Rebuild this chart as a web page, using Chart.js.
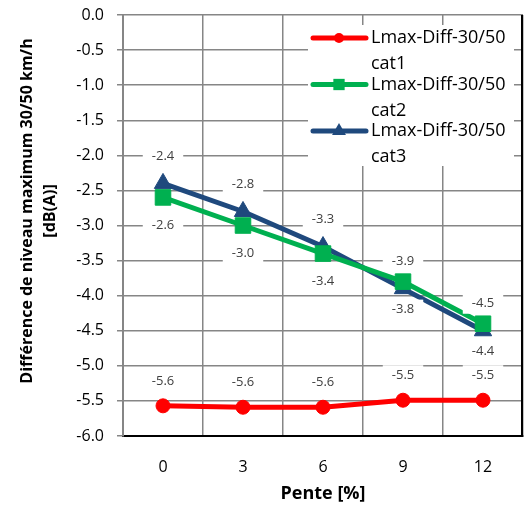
<!DOCTYPE html>
<html>
<head>
<meta charset="utf-8">
<script src="https://cdn.jsdelivr.net/npm/chart.js@4"></script>
<style>body{margin:0;background:#fff}</style>
</head>
<body>
<canvas id="myChart" width="524" height="506"></canvas>
<script>
const labels = ['0', '3', '6', '9', '12'];

const cat1 = [-5.57, -5.59, -5.59, -5.49, -5.49];
const cat2 = [-2.6, -3.0, -3.4, -3.8, -4.4];
const cat3 = [-2.4, -2.8, -3.3, -3.9, -4.5];

const seriesNames = [
  ['Lmax-Diff-30/50', 'cat1'],
  ['Lmax-Diff-30/50', 'cat2'],
  ['Lmax-Diff-30/50', 'cat3'],
];

const FONT = '"Open Sans", "Noto Sans", sans-serif';
// a few nbsp in front of the y title to push it up a bit, as in the original
const PAD = '\u00A0'.repeat(7);

// draw a marker by hand (used for the legend)
function marker(ctx, style, x, y, r, color) {
  ctx.fillStyle = color;
  ctx.beginPath();
  if (style === 'circle') {
    ctx.arc(x, y, r, 0, Math.PI * 2);
  } else if (style === 'rect') {
    const s = r * Math.SQRT1_2;
    ctx.rect(x - s, y - s, 2 * s, 2 * s);
  } else {
    ctx.moveTo(x, y - r);
    ctx.lineTo(x + r * 0.866, y + r * 0.5);
    ctx.lineTo(x - r * 0.866, y + r * 0.5);
    ctx.closePath();
  }
  ctx.fill();
}

// black line on the right side of the plot
const rightBorder = {
  id: 'rightBorder',
  beforeDatasetsDraw(chart) {
    const {ctx, chartArea} = chart;
    ctx.save();
    ctx.strokeStyle = '#000';
    ctx.lineWidth = 2;
    ctx.beginPath();
    ctx.moveTo(chartArea.right - 1, chartArea.top);
    ctx.lineTo(chartArea.right - 1, chartArea.bottom);
    ctx.stroke();
    ctx.restore();
  }
};

// value labels with white boxes, like Excel data labels
const valueLabels = {
  id: 'valueLabels',
  afterDatasetsDraw(chart) {
    const ctx = chart.ctx;
    ctx.save();
    ctx.font = '13px ' + FONT;
    ctx.textAlign = 'center';
    ctx.textBaseline = 'middle';
    chart.data.datasets.forEach((ds, i) => {
      chart.getDatasetMeta(i).data.forEach((pt, j) => {
        const txt = ds.data[j].toFixed(1);
        const y = pt.y + ds.labelOffset;
        const w = ctx.measureText(txt).width + 18;
        ctx.fillStyle = '#fff';
        ctx.fillRect(pt.x - w / 2, y - 10, w, 20);
        ctx.fillStyle = '#404040';
        ctx.fillText(txt, pt.x, y);
      });
    });
    ctx.restore();
  }
};

// legend drawn inside the plot, top right
const innerLegend = {
  id: 'innerLegend',
  afterDraw(chart) {
    const ctx = chart.ctx;
    const area = chart.chartArea;
    const x0 = area.right - 215;
    const y0 = area.top + 10;
    ctx.save();
    ctx.fillStyle = '#fff';
    ctx.fillRect(x0, y0, 206, 141);
    ctx.font = '18px ' + FONT;
    ctx.textBaseline = 'middle';
    chart.data.datasets.forEach((ds, i) => {
      const y = y0 + 13 + i * 46.5;
      ctx.strokeStyle = ds.borderColor;
      ctx.lineWidth = 5;
      ctx.lineCap = 'round';
      ctx.beginPath();
      ctx.moveTo(x0 + 5, y);
      ctx.lineTo(x0 + 58, y);
      ctx.stroke();
      marker(ctx, ds.pointStyle, x0 + 31, y, ds.legendRadius, ds.borderColor);
      ctx.fillStyle = '#000';
      ctx.fillText(seriesNames[i][0], x0 + 63, y);
      ctx.fillText(seriesNames[i][1], x0 + 63, y + 26);
    });
    ctx.restore();
  }
};

const data = {
  labels: labels,
  datasets: [{
    label: seriesNames[0].join(' '),
    data: cat1,
    borderColor: '#ff0000',
    backgroundColor: '#ff0000',
    borderWidth: 5,
    pointStyle: 'circle',
    pointRadius: 7,
    pointBorderWidth: 1,
    labelOffset: -25,
    legendRadius: 5,
  }, {
    label: seriesNames[1].join(' '),
    data: cat2,
    borderColor: '#00b050',
    backgroundColor: '#00b050',
    borderWidth: 5,
    pointStyle: 'rect',
    pointRadius: 11,
    pointBorderWidth: 1,
    labelOffset: 28,
    legendRadius: 8,
  }, {
    label: seriesNames[2].join(' '),
    data: cat3,
    borderColor: '#1f497d',
    backgroundColor: '#1f497d',
    borderWidth: 5,
    pointStyle: 'triangle',
    pointRadius: 10,
    pointBorderWidth: 1,
    labelOffset: -27,
    legendRadius: 8,
  }]
};

const config = {
  type: 'line',
  data: data,
  options: {
    responsive: false,
    animation: false,
    layout: { autoPadding: false, padding: { top: 15, right: 1, left: 0, bottom: 0 } },
    plugins: {
      legend: { display: false },
      tooltip: { enabled: false },
    },
    scales: {
      x: {
        offset: true,
        afterFit: (scale) => {
          scale.height = 70;
          scale.paddingLeft = 0;
          scale.paddingRight = 0;
        },
        grid: { offset: true, color: '#868686', lineWidth: 1.5, drawTicks: false },
        border: { color: '#000', width: 2 },
        ticks: { color: '#000', font: { size: 16, family: FONT }, padding: 22 },
        title: {
          display: true,
          text: 'Pente [%]',
          color: '#000',
          font: { size: 18, weight: 'bold', family: FONT },
          padding: { top: 0, bottom: 1 },
        },
      },
      y: {
        min: -6,
        max: 0,
        afterFit: (scale) => {
          scale.width = 123;
          scale.paddingTop = 0;
          scale.paddingBottom = 0;
        },
        grid: { color: '#868686', lineWidth: 1.5, tickLength: 6 },
        border: { color: '#868686', width: 2 },
        ticks: {
          stepSize: 0.5,
          color: '#000',
          padding: 13,
          font: { size: 16, family: FONT },
          callback: (v) => v.toFixed(1),
        },
        title: {
          display: true,
          text: [PAD + 'Différence de niveau maximum 30/50 km/h', PAD + '[dB(A)]'],
          color: '#000',
          font: { size: 16, weight: 'bold', family: FONT, lineHeight: 1.45 },
          padding: { top: 16, bottom: 0 },
        },
      },
    },
  },
  plugins: [rightBorder, valueLabels, innerLegend],
};

const myChart = new Chart(document.getElementById('myChart'), config);
</script>
</body>
</html>
